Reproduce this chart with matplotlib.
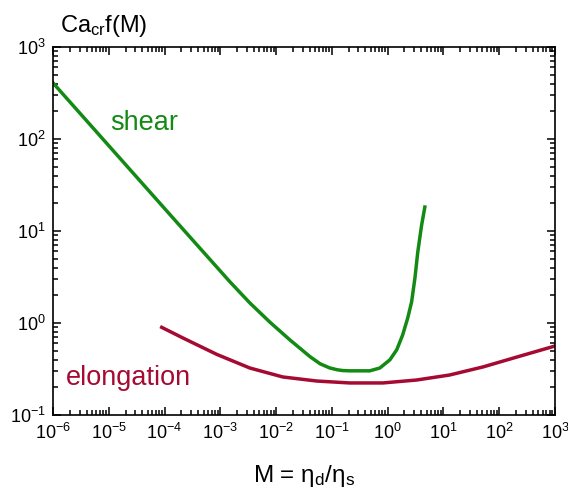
import numpy as np
import matplotlib.pyplot as plt
from matplotlib.ticker import LogLocator, NullFormatter, FuncFormatter

plt.rcParams['font.family'] = ['Liberation Sans', 'DejaVu Sans']
plt.rcParams['mathtext.fontset'] = 'custom'
plt.rcParams['mathtext.rm'] = 'Liberation Sans'
plt.rcParams['mathtext.it'] = 'Liberation Sans:italic'
plt.rcParams['mathtext.bf'] = 'Liberation Sans:bold'

# critical capillary number curves
shear_M = [1e-6, 1.41e-4, 1.49e-3, 3.39e-3, 7.76e-3, 1.78e-2, 4.07e-2, 6.17e-2, 9.12e-2,
           0.125, 0.158, 0.21, 0.479, 0.724, 1.10, 1.46, 1.86, 2.29, 2.69, 3.09, 3.47, 4.07, 4.65]
shear_Ca = [407, 13.9, 2.8, 1.65, 1.02, 0.653, 0.43, 0.36, 0.325,
            0.31, 0.304, 0.302, 0.302, 0.324, 0.398, 0.513, 0.741, 1.13, 1.69, 3.09, 5.89, 11.6, 18.2]

elong_M = [8.9e-5, 2.14e-4, 8.7e-4, 3.39e-3, 1.32e-2, 5.37e-2, 0.209, 0.82, 3.31, 12.9, 51.3, 209, 1000]
elong_Ca = [0.897, 0.687, 0.455, 0.324, 0.259, 0.234, 0.223, 0.223, 0.240, 0.272, 0.333, 0.427, 0.562]

green = '#138a13'
red = '#a50a32'

fig = plt.figure(figsize=(5.68, 4.88), dpi=100)
ax = fig.add_axes([0.0933, 0.1496, 0.8837, 0.7541])

ax.plot(shear_M, shear_Ca, color=green, lw=2.5, solid_joinstyle='round')
ax.plot(elong_M, elong_Ca, color=red, lw=2.5, solid_joinstyle='round')

ax.set_xscale('log')
ax.set_yscale('log')
ax.set_xlim(1e-6, 1e3)
ax.set_ylim(1e-1, 1e3)

pow10 = FuncFormatter(lambda v, pos: r'$\mathregular{10^{%d}}$' % round(np.log10(v)))
for axis in (ax.xaxis, ax.yaxis):
    axis.set_major_locator(LogLocator(base=10, numticks=20))
    axis.set_minor_locator(LogLocator(base=10, subs=np.arange(2, 10), numticks=20))
    axis.set_major_formatter(pow10)
    axis.set_minor_formatter(NullFormatter())

ax.tick_params(which='both', direction='in', top=True, right=True, width=1.1, labelsize=13)
ax.tick_params(which='major', length=6)
ax.tick_params(which='minor', length=3.5)
ax.tick_params(axis='x', pad=6)
ax.tick_params(axis='y', pad=5)
for s in ax.spines.values():
    s.set_linewidth(1.2)

ax.text(1.05e-5, 149, 'shear', color=green, fontsize=19.5, va='center')
ax.text(1.7e-6, 0.252, 'elongation', color=red, fontsize=19.5, va='center')

ax.set_xlabel(r'M = $\mathregular{\eta_d/\eta_s}$', fontsize=17.5, labelpad=14)
fig.text(0.106, 0.934, r'Ca$\mathregular{_{cr}}$f(M)', fontsize=17, ha='left', va='baseline')

fig.savefig('out.png', dpi=100)
